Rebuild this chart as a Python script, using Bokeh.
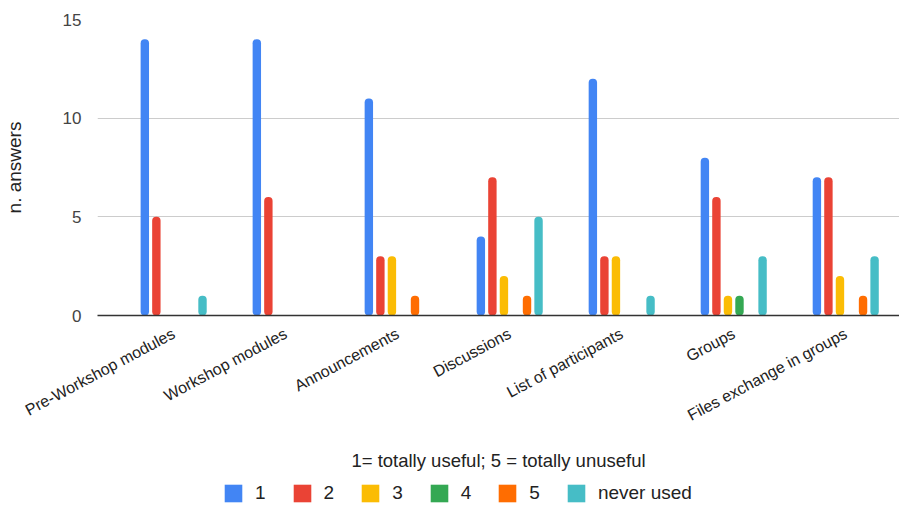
from bokeh.plotting import figure
from bokeh.layouts import column
from bokeh.models import ColumnDataSource, Range1d, FixedTicker, Legend, LegendItem
from bokeh.embed import file_html
from bokeh.resources import INLINE

categories = ["Pre-Workshop modules", "Workshop modules", "Announcements", "Discussions",
              "List of participants", "Groups", "Files exchange in groups"]
series_names = ["1", "2", "3", "4", "5", "never used"]
s1 = [14, 14, 11, 4, 12, 8, 7]
s2 = [5, 6, 3, 7, 3, 6, 7]
s3 = [0, 0, 3, 2, 3, 1, 2]
s4 = [0, 0, 0, 0, 0, 1, 0]
s5 = [0, 0, 1, 1, 0, 0, 1]
s_never = [1, 0, 0, 5, 1, 3, 3]
series_values = [s1, s2, s3, s4, s5, s_never]
colors = ["#4285F4", "#EA4335", "#FBBC04", "#34A853", "#FF6D01", "#46BDC6"]
y_ticks = [0, 5, 10, 15]

FONT = "Liberation Sans"
W = 899

p = figure(width=W, height=476, output_backend="svg", toolbar_location=None,
           x_range=Range1d(-0.68, 6.48), y_range=Range1d(0, 15))
p.min_border_left = 94
p.min_border_right = 0
p.min_border_top = 19
p.min_border_bottom = 161
p.outline_line_color = None
p.background_fill_color = "white"
p.border_fill_color = "white"

step = 0.103
width = 0.075
for k, (name, vals, col) in enumerate(zip(series_names, series_values, colors)):
    xs = [i + (k - 2.5) * step for i in range(len(categories))]
    src = ColumnDataSource(dict(x=xs, top=vals))
    p.vbar(x="x", top="top", bottom=0, width=width, source=src,
           fill_color=col, line_color=None, border_radius=4)

# x axis
p.xaxis.ticker = FixedTicker(ticks=list(range(len(categories))))
p.xaxis.major_label_overrides = {i: c for i, c in enumerate(categories)}
p.xaxis.major_label_orientation = 0.49
p.xaxis.major_label_text_font = FONT
p.xaxis.major_label_text_font_size = "16px"
p.xaxis.major_label_text_color = "#222222"
p.xaxis.major_label_standoff = 11
p.xaxis.major_tick_line_color = None
p.xaxis.minor_tick_line_color = None
p.xaxis.axis_line_color = "#333333"
p.xaxis.axis_line_width = 1.5
p.xaxis.axis_label = "1= totally useful; 5 = totally unuseful"
p.xaxis.axis_label_text_font = FONT
p.xaxis.axis_label_text_font_size = "18.5px"
p.xaxis.axis_label_text_font_style = "normal"
p.xaxis.axis_label_text_color = "#222222"
p.xaxis.axis_label_standoff = 16

# y axis
p.yaxis.ticker = FixedTicker(ticks=y_ticks)
p.yaxis.major_label_text_font = FONT
p.yaxis.major_label_text_font_size = "17px"
p.yaxis.major_label_text_color = "#444444"
p.yaxis.major_label_standoff = 10
p.yaxis.major_tick_line_color = None
p.yaxis.minor_tick_line_color = None
p.yaxis.axis_line_color = None
p.yaxis.axis_label = "n. answers"
p.yaxis.axis_label_text_font = FONT
p.yaxis.axis_label_text_font_size = "19px"
p.yaxis.axis_label_text_font_style = "normal"
p.yaxis.axis_label_text_color = "#222222"
p.yaxis.axis_label_standoff = 35

p.xgrid.grid_line_color = None
p.ygrid.grid_line_color = "#cccccc"
p.ygrid.grid_line_width = 1

# legend strip below the chart (swatches kept outside its visible range)
lf = figure(width=W, height=30, output_backend="svg", toolbar_location=None,
            x_range=Range1d(0, 1), y_range=Range1d(0, 1))
lf.min_border_left = 0
lf.min_border_right = 0
lf.min_border_top = 0
lf.min_border_bottom = 0
lf.axis.visible = False
lf.grid.visible = False
lf.outline_line_color = None
items = []
for name, col in zip(series_names, colors):
    r = lf.vbar(x=[-5], top=[-5], bottom=-6, width=0.1, fill_color=col, line_color=None)
    items.append(LegendItem(label=name, renderers=[r]))

legend = Legend(items=items, orientation="horizontal", location=(125, 2))
legend.label_text_font = FONT
legend.label_text_font_size = "19px"
legend.label_text_color = "#222222"
legend.label_height = 20
legend.label_width = 10
legend.glyph_width = 22
legend.glyph_height = 22
legend.label_standoff = 11
legend.spacing = 25
legend.border_line_color = None
legend.background_fill_alpha = 0
legend.padding = 0
legend.margin = 0
lf.add_layout(legend, "center")

layout = column(p, lf, spacing=0)
open("out.html", "w").write(file_html(layout, INLINE))
